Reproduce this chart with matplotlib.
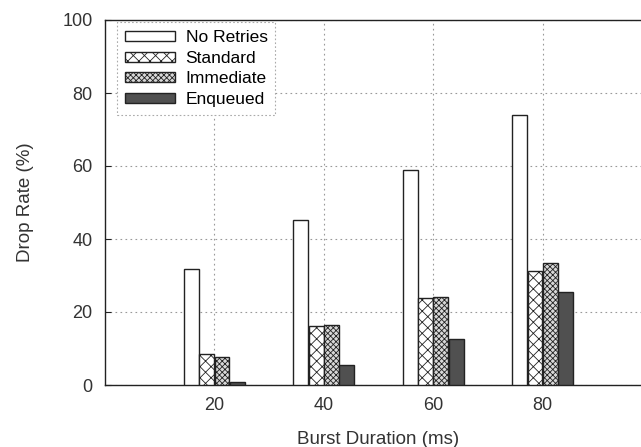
import numpy as np
import matplotlib.pyplot as plt

plt.rcParams['font.family'] = ['Liberation Sans', 'DejaVu Sans']
plt.rcParams['hatch.linewidth'] = 0.6

durations = [20, 40, 60, 80]
series = ['No Retries', 'Standard', 'Immediate', 'Enqueued']
no_retries = [31.7, 45.2, 58.9, 73.9]
standard = [8.6, 16.1, 23.7, 31.3]
immediate = [7.7, 16.4, 24.1, 33.4]
enqueued = [0.8, 5.5, 12.7, 25.4]

values = [no_retries, standard, immediate, enqueued]
faces = ['white', 'white', '#d8d8d8', '#505050']
hatches = [None, 'xxx', 'xxxxxx', None]
offsets = [-4.2, -1.4, 1.4, 4.2]
width = 2.7

fig = plt.figure(figsize=(6.41, 4.47), dpi=100)
ax = fig.add_axes([105/641, 62/447, 547/641, 365/447])

x = np.array(durations, dtype=float)
for vals, fc, h, off, name in zip(values, faces, hatches, offsets, series):
    ax.bar(x + off, vals, width=width, color=fc, hatch=h,
           edgecolor='#222222', linewidth=1.0, label=name, zorder=3)

ax.set_xlim(0, 100)
ax.set_ylim(0, 100)
ax.set_xticks(durations)
ax.set_yticks([0, 20, 40, 60, 80, 100])
ax.tick_params(direction='in', length=4, labelsize=13, colors='#222222',
               labelcolor='#333333', pad=9)
ax.grid(True, linestyle=(0, (1.5, 3)), color='#999999', linewidth=0.8, zorder=0)
for s in ax.spines.values():
    s.set_color('#222222')
    s.set_linewidth(1.0)

ax.set_xlabel('Burst Duration (ms)', fontsize=13.5, color='#333333', labelpad=12)
ax.set_ylabel('Drop Rate (%)', fontsize=13.5, color='#333333', labelpad=20)

leg = ax.legend(loc='upper left', bbox_to_anchor=(0.022, 0.994), fontsize=12.5,
                handlelength=2.9, handleheight=0.5, handletextpad=0.6,
                labelspacing=0.33, borderpad=0.45, borderaxespad=0,
                fancybox=False, frameon=True, framealpha=1)
leg.get_frame().set_edgecolor('#aaaaaa')
leg.get_frame().set_linestyle((0, (1.5, 2)))
leg.get_frame().set_linewidth(0.8)

plt.savefig('out.png', dpi=100)
